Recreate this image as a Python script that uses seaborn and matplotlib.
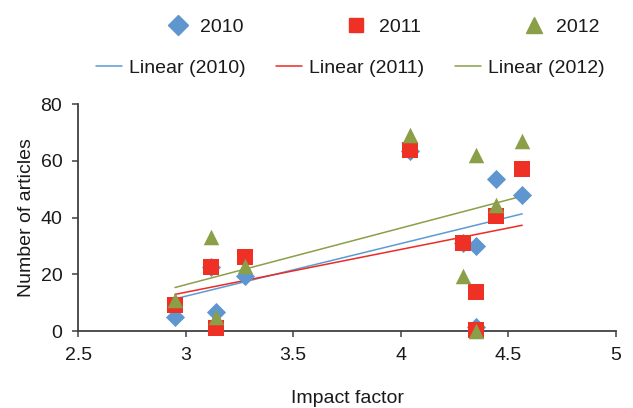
import matplotlib.pyplot as plt
import seaborn as sns
import pandas as pd
from matplotlib.lines import Line2D

sns.set_style("white")
plt.rcParams['font.family'] = ['Liberation Sans', 'DejaVu Sans']

# impact factor of each journal and number of articles per year
impact = [2.95, 3.117, 3.14, 3.275, 4.043, 4.29, 4.35, 4.35, 4.444, 4.565]
articles_2010 = [5, 22.6, 6.7, 19.3, 63.5, 31, 30, 1.5, 53.5, 48]
articles_2011 = [9, 22.6, 1, 26, 64, 31, 13.8, 0.5, 40.6, 57]
articles_2012 = [11, 33, 5, 23, 69, 19.3, 62, 0, 44.4, 67]

years = ['2010', '2011', '2012']
marker_colors = ['#6096cf', '#ee3124', '#8a9f48']
line_colors = ['#5b9bd5', '#ee2a24', '#8a9f48']
markers = ['D', 's', '^']
marker_sizes = [95, 120, 125]

df = pd.DataFrame({
    'impact': impact * 3,
    'articles': articles_2010 + articles_2011 + articles_2012,
    'year': [y for y in years for _ in impact],
})

fig = plt.figure(figsize=(6.33, 4.08), dpi=100)
ax = fig.add_axes([78.3 / 633, 1 - 331 / 408, (615.7 - 78.3) / 633, (331 - 104.3) / 408])

# trend lines under the markers
for year, col in zip(years, line_colors):
    sns.regplot(data=df[df['year'] == year], x='impact', y='articles', ax=ax,
                scatter=False, ci=None, truncate=True,
                line_kws={'color': col, 'lw': 1.1, 'zorder': 1})

for year, col, m, s in zip(years, marker_colors, markers, marker_sizes):
    sns.scatterplot(data=df[df['year'] == year], x='impact', y='articles', ax=ax,
                    color=col, marker=m, s=s, linewidth=0, zorder=3, clip_on=False)

ax.set_xlim(2.5, 5)
ax.set_ylim(0, 80)
ax.set_xticks([2.5, 3, 3.5, 4, 4.5, 5])
ax.set_xticklabels(['2.5', '3', '3.5', '4', '4.5', '5'])
ax.set_yticks([0, 20, 40, 60, 80])

sns.despine(ax=ax)
for sp in ['left', 'bottom']:
    ax.spines[sp].set_color('#404040')
    ax.spines[sp].set_linewidth(1.3)
ax.tick_params(axis='both', which='major', direction='out', length=4.5, width=1.1,
               color='#404040', labelsize=14, labelcolor='#1a1a1a', pad=7)
ax.tick_params(axis='x', bottom=True)
ax.tick_params(axis='y', left=True)

ax.set_xlabel('Impact factor', fontsize=14, color='#1a1a1a', labelpad=18.5)
ax.set_ylabel('Number of articles', fontsize=14, color='#1a1a1a', labelpad=4)

# legend, two rows like the original
mark_handles = [Line2D([], [], color=c, marker=m, linestyle='none', markersize=ms)
                for c, m, ms in zip(marker_colors, markers, [10, 10.5, 11])]
line_handles = [Line2D([], [], color=c, lw=1.1) for c in line_colors]

leg1 = fig.legend(mark_handles, years, ncol=3, frameon=False, fontsize=14,
                  loc='center left', bbox_to_anchor=(168 / 633, 1 - 27 / 408),
                  borderpad=0, borderaxespad=0, handlelength=1.0,
                  handletextpad=0.65, columnspacing=5.3)
leg2 = fig.legend(line_handles, ['Linear (' + y + ')' for y in years], ncol=3,
                  frameon=False, fontsize=14, loc='center left',
                  bbox_to_anchor=(96 / 633, 1 - 68 / 408), borderpad=0,
                  borderaxespad=0, handlelength=1.35, handletextpad=0.36,
                  columnspacing=1.55)
for leg in (leg1, leg2):
    for t in leg.get_texts():
        t.set_color('#1a1a1a')

fig.savefig('out.png', dpi=100)
plt.close(fig)
